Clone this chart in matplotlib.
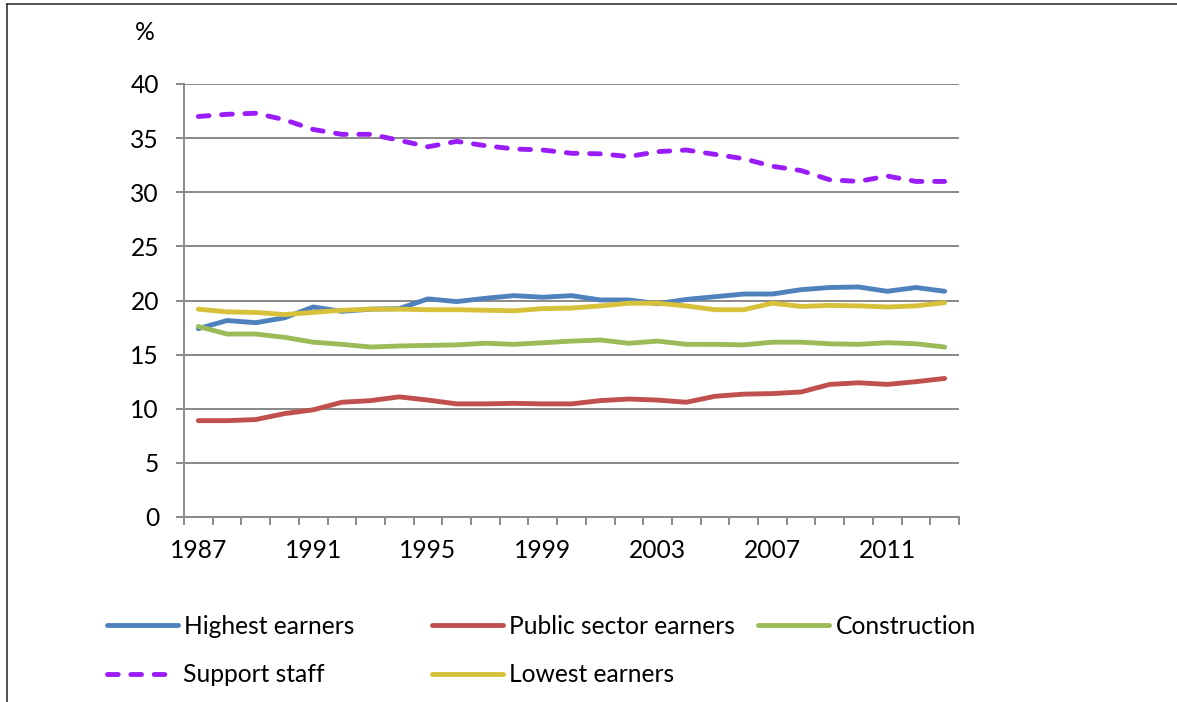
import matplotlib
matplotlib.use("Agg")
import matplotlib.pyplot as plt
from matplotlib.lines import Line2D
import numpy as np

years = list(range(1987, 2014))
highest = [17.4, 18.15, 17.95, 18.4, 19.4, 19.0, 19.2, 19.25, 20.15, 19.9, 20.2, 20.45, 20.3, 20.45,
           20.05, 20.05, 19.7, 20.1, 20.35, 20.6, 20.6, 21.0, 21.2, 21.25, 20.85, 21.2, 20.85]
public = [8.9, 8.9, 9.0, 9.55, 9.9, 10.6, 10.75, 11.1, 10.8, 10.45, 10.45, 10.5, 10.45, 10.45,
          10.75, 10.9, 10.8, 10.6, 11.15, 11.35, 11.4, 11.55, 12.25, 12.4, 12.25, 12.5, 12.8]
construction = [17.6, 16.9, 16.9, 16.6, 16.15, 15.95, 15.7, 15.8, 15.85, 15.9, 16.05, 15.95, 16.1, 16.25,
                16.35, 16.05, 16.25, 15.95, 15.95, 15.9, 16.15, 16.15, 16.0, 15.95, 16.1, 16.0, 15.7]
support = [37.0, 37.2, 37.3, 36.7, 35.8, 35.35, 35.35, 34.8, 34.2, 34.7, 34.3, 34.0, 33.9, 33.6,
           33.55, 33.3, 33.75, 33.9, 33.5, 33.1, 32.4, 32.0, 31.15, 31.0, 31.5, 31.0, 31.0]
lowest = [19.2, 18.95, 18.9, 18.7, 18.9, 19.1, 19.2, 19.2, 19.15, 19.15, 19.1, 19.05, 19.25, 19.3,
          19.5, 19.75, 19.75, 19.5, 19.15, 19.15, 19.75, 19.45, 19.55, 19.5, 19.4, 19.5, 19.8]
series_names = ["Highest earners", "Public sector earners", "Construction", "Support staff", "Lowest earners"]
y_ticks = [0, 5, 10, 15, 20, 25, 30, 35, 40]
x_label_years = [1987, 1991, 1995, 1999, 2003, 2007, 2011]

colors = ["#4F81BD", "#C0504D", "#9BBB59", "#9A1CF7", "#D8C13A"]
plt.rcParams['font.family'] = ['Lato', 'DejaVu Sans']
FS = 17.7
W, H = 1177, 702
fig = plt.figure(figsize=(W / 100, H / 100), dpi=100)
ax = fig.add_axes([184 / W, 1 - 517 / H, (959 - 184) / W, (517 - 84) / H])

x = np.arange(len(years))
all_series = [highest, public, construction, support, lowest]
lines = []
for vals, name, c in zip(all_series, series_names, colors):
    if name == "Support staff":
        ln, = ax.plot(x, vals, color=c, lw=3.5, dashes=(2.2, 2.6), dash_capstyle='round',
                      solid_capstyle='round', label=name, zorder=3)
    else:
        ln, = ax.plot(x, vals, color=c, lw=3.5, solid_capstyle='round', solid_joinstyle='round',
                      label=name, zorder=3)
    lines.append(ln)

ax.set_xlim(-0.5, len(years) - 0.5)
ax.set_ylim(0, 40)
grid_c = "#898989"
ax.set_yticks(y_ticks)
ax.set_yticklabels([str(v) for v in y_ticks])
ax.yaxis.grid(True, color=grid_c, lw=1.4)
ax.set_axisbelow(True)
ax.set_xticks(np.arange(-0.5, len(years) + 0.5, 1.0))
ax.set_xticklabels([])
ax.set_xticks([years.index(y) for y in x_label_years], minor=True)
ax.set_xticklabels([str(y) for y in x_label_years], minor=True)
ax.tick_params(axis='x', which='major', direction='out', length=6, width=1.4, color=grid_c)
ax.tick_params(axis='x', which='minor', length=0, pad=16, labelsize=FS)
ax.tick_params(axis='y', direction='out', length=6, width=1.4, color=grid_c, pad=12, labelsize=FS)
for s in ['top', 'right']:
    ax.spines[s].set_visible(False)
for s in ['left', 'bottom']:
    ax.spines[s].set_color(grid_c)
    ax.spines[s].set_linewidth(1.4)

fig.text(145 / W, 1 - 33 / H, "%", ha='center', va='center', fontsize=FS)

# legend entries placed like the original layout
positions = {"Highest earners": (107, 626), "Public sector earners": (432, 626),
             "Construction": (758, 626), "Support staff": (107, 675), "Lowest earners": (432, 675)}
for ln in lines:
    px, py = positions[ln.get_label()]
    if ln.get_label() == "Support staff":
        hl, tp = 2.55, 0.55
    else:
        hl, tp = 2.9, 0.25
    fig.legend(handles=[ln], loc='center left', bbox_to_anchor=(px / W, 1 - py / H),
               frameon=False, fontsize=FS, handlelength=hl, handletextpad=tp,
               borderpad=0, borderaxespad=0)

# outer frame lines
fig.add_artist(Line2D([7 / W, 7 / W], [0, 1 - 4 / H], color='#222222', lw=1.1, transform=fig.transFigure))
fig.add_artist(Line2D([7 / W, 1], [1 - 4 / H, 1 - 4 / H], color='#222222', lw=1.1, transform=fig.transFigure))

fig.savefig("out.png", dpi=100)
